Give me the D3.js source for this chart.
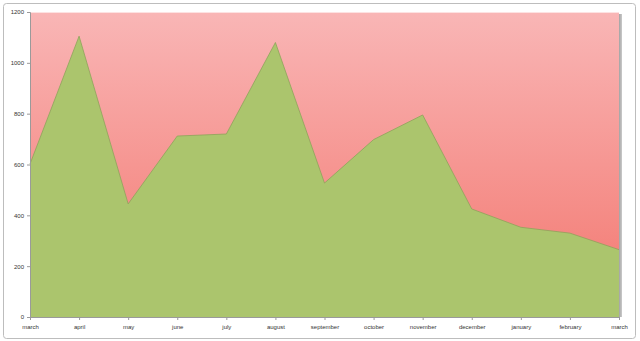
<!DOCTYPE html>
<html lang="en">
  <head>
    <meta charset="UTF-8" />
    <title>area chart</title>
    <script src="https://d3js.org/d3.v7.min.js"></script>
    <style>
      body { margin: 0; background: #fff; }
      .tick text { font: 6px "Liberation Sans Narrow", "Liberation Sans", Arial, sans-serif; fill: #333; }
    </style>
  </head>
  <body>
    <svg width="640" height="341"></svg>
  </body>

  <script>
    // 数据
    var months = ['march', 'april', 'may', 'june', 'july', 'august', 'september',
      'october', 'november', 'december', 'january', 'february', 'march']
    var values = [602, 1105, 445, 712, 720, 1080, 527, 698, 795, 425, 353, 330, 265]
    var yTicks = [0, 200, 400, 600, 800, 1000, 1200]

    var svg = d3.select('svg')
    // 绘图区边界 (不用 top 这个名字, 它是 window.top)
    var plotL = 30, plotR = 619, plotT = 12, plotB = 317

    // 外框
    svg.append('rect')
      .attr('x', 3.5).attr('y', 3.5).attr('width', 632).attr('height', 335)
      .attr('rx', 3).attr('fill', '#fff').attr('stroke', '#bdbdbd')

    var defs = svg.append('defs')
    var grad = defs.append('linearGradient').attr('id', 'bg')
      .attr('x1', 0).attr('y1', 0).attr('x2', 0).attr('y2', 1)
    grad.append('stop').attr('offset', '0%').attr('stop-color', '#f9b6b6')
    grad.append('stop').attr('offset', '100%').attr('stop-color', '#f3766e')

    // 比例尺
    var x = d3.scalePoint().domain(d3.range(months.length)).range([plotL, plotR])
    var y = d3.scaleLinear().domain([0, 1200]).range([plotB, plotT])

    // 阴影
    svg.append('rect')
      .attr('x', plotR).attr('y', plotT + 2).attr('width', 3).attr('height', plotB - plotT - 2)
      .attr('fill', '#c4c4c4')
    svg.append('rect')
      .attr('x', plotR).attr('y', plotT + 2).attr('width', 1.5).attr('height', plotB - plotT - 2)
      .attr('fill', '#a9a9a9')

    // 背景
    svg.append('rect')
      .attr('x', plotL).attr('y', plotT).attr('width', plotR - plotL).attr('height', plotB - plotT)
      .attr('fill', 'url(#bg)')
    svg.append('line')
      .attr('x1', plotL).attr('x2', plotR).attr('y1', plotT + 0.5).attr('y2', plotT + 0.5)
      .attr('stroke', '#fde2e2').attr('stroke-width', 1)

    // 面积
    var area = d3.area()
      .x(function (d, i) { return x(i) })
      .y0(y(0))
      .y1(function (d) { return y(d) })
    svg.append('path')
      .datum(values)
      .attr('d', area)
      .attr('fill', '#abc56d')
    svg.append('path')
      .datum(values)
      .attr('d', d3.line().x(function (d, i) { return x(i) }).y(function (d) { return y(d) }))
      .attr('fill', 'none')
      .attr('stroke', '#8ea35a')
      .attr('stroke-width', 0.8)

    // 坐标轴
    var xAxis = svg.append('g')
      .attr('transform', 'translate(0,' + plotB + ')')
      .call(d3.axisBottom(x).tickSize(3).tickPadding(5).tickFormat(function (i) { return months[i] }))
    var yAxis = svg.append('g')
      .attr('transform', 'translate(' + plotL + ',0)')
      .call(d3.axisLeft(y).tickValues(yTicks).tickSize(3).tickPadding(3).tickFormat(d3.format('d')))
    ;[xAxis, yAxis].forEach(function (a) {
      a.select('.domain').attr('stroke', '#9a9a9a')
      a.selectAll('.tick line').attr('stroke', '#9a9a9a')
    })
  </script>
</html>
